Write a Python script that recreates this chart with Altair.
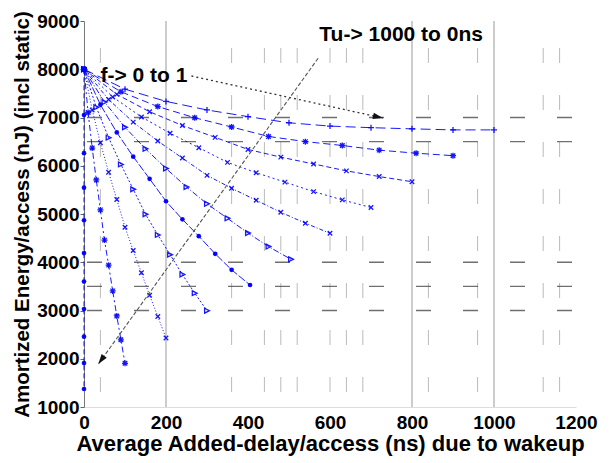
import altair as alt
import pandas as pd

FONT = "Liberation Sans"

# ---- data: one series per wake-up time Tu (ns), points for f = 0 ... 1
tu_values = [1000, 900, 800, 700, 600, 500, 400, 300, 200, 100, 0]

delay_tu1000 = [0, 100, 200, 300, 400, 500, 600, 700, 800, 900, 1000]
energy_tu1000 = [8000, 7587, 7334, 7156, 7018, 6890, 6822, 6789, 6765, 6743, 6743]
delay_tu900 = [0, 90, 180, 270, 360, 450, 540, 630, 720, 810, 900]
energy_tu900 = [8000, 7533, 7227, 6995, 6803, 6607, 6500, 6420, 6323, 6260, 6209]
delay_tu800 = [0, 80, 160, 240, 320, 400, 480, 560, 640, 720, 800]
energy_tu800 = [8000, 7480, 7119, 6834, 6588, 6338, 6178, 6037, 5894, 5776, 5669]
delay_tu700 = [0, 70, 140, 210, 280, 350, 420, 490, 560, 630, 700]
energy_tu700 = [8000, 7426, 7012, 6673, 6374, 6070, 5855, 5661, 5464, 5293, 5135]
delay_tu600 = [0, 60, 120, 180, 240, 300, 360, 420, 480, 540, 600]
energy_tu600 = [8000, 7372, 6904, 6512, 6159, 5801, 5533, 5285, 5035, 4810, 4600]
delay_tu500 = [0, 50, 100, 150, 200, 250, 300, 350, 400, 450, 505]
energy_tu500 = [8000, 7319, 6797, 6351, 5944, 5560, 5211, 4910, 4605, 4325, 4060]
delay_tu400 = [0, 40, 80, 120, 160, 200, 240, 280, 320, 360, 405]
energy_tu400 = [8000, 7265, 6690, 6189, 5729, 5264, 4889, 4540, 4175, 3843, 3528]
delay_tu300 = [0, 30, 60, 90, 120, 150, 180, 210, 240, 270, 300]
energy_tu300 = [8000, 7211, 6582, 6028, 5514, 4996, 4567, 4158, 3746, 3360, 2996]
delay_tu200 = [0, 20, 40, 60, 80, 100, 120, 140, 160, 180, 200]
energy_tu200 = [8000, 7157, 6475, 5867, 5300, 4727, 4244, 3782, 3316, 2877, 2430]
delay_tu100 = [0, 10, 20, 30, 40, 50, 60, 70, 80, 90, 100]
energy_tu100 = [8000, 7104, 6367, 5706, 5085, 4459, 3940, 3406, 2887, 2393, 1906]
delay_tu0 = [0, 0, 0, 0, 0, 0, 0, 0, 0, 0, 0]
energy_tu0 = [8000, 7050, 6260, 5545, 4870, 4190, 3600, 3030, 2457, 1910, 1373]

series_delay = [delay_tu1000, delay_tu900, delay_tu800, delay_tu700, delay_tu600,
                delay_tu500, delay_tu400, delay_tu300, delay_tu200, delay_tu100, delay_tu0]
series_energy = [energy_tu1000, energy_tu900, energy_tu800, energy_tu700, energy_tu600,
                 energy_tu500, energy_tu400, energy_tu300, energy_tu200, energy_tu100, energy_tu0]

# grid fragments seen in the picture
solid_grid_x = [200, 800, 1000]
dashed_grid_x = [40, 360, 440, 480, 520, 600, 640, 680, 840, 960, 1120, 1160]
dashed_grid_y = [3000, 3500, 4000, 6500, 7000]

# annotations
label_f = "f-> 0 to 1"
label_f_pos = [40, 7866]
label_tu = "Tu-> 1000 to 0ns"
label_tu_pos = [574, 8720]
arrow_f = [262, 7860, 729, 6990]      # x, y -> x2, y2
arrow_tu = [571, 8227, 35, 1891]

rows = []
for tu, xs_, ys_ in zip(tu_values, series_delay, series_energy):
    for i, (x, y) in enumerate(zip(xs_, ys_)):
        rows.append({"Tu": str(tu), "i": i, "delay": x, "energy": y})
df = pd.DataFrame(rows)

tu_dom = [str(t) for t in tu_values]
dash_range = [[10, 5], [7, 4], [5, 3], [2, 3], [4, 2, 1, 2], [6, 2, 1, 2],
              [8, 2], [2, 2], [1, 2], [6, 3, 2, 3], [5, 3]]
PLUS = "M-1,0L1,0M0,-1L0,1"
XM = "M-0.75,-0.75L0.75,0.75M-0.75,0.75L0.75,-0.75"
STAR = PLUS + XM
TRI = "M-0.8,-0.8L0.8,0L-0.8,0.8Z"
DOT = "M0,-0.3A0.3,0.3 0 1,1 0,0.3A0.3,0.3 0 1,1 0,-0.3Z"
shape_range = [PLUS, STAR, XM, XM, XM, TRI, DOT, TRI, XM, STAR, DOT]

xs = alt.Scale(domain=[0, 1200], nice=False)
ys = alt.Scale(domain=[1000, 9000], nice=False)

x_axis = alt.Axis(values=[0, 200, 400, 600, 800, 1000, 1200], format="d", grid=False, ticks=False,
                  labelPadding=6, labelFlush=False, labelFont=FONT, labelFontSize=19,
                  labelFontWeight="bold", labelColor="black",
                  title="Average Added-delay/access (ns) due to wakeup",
                  titleFont=FONT, titleFontSize=22, titleFontWeight="bold",
                  titleColor="black", titlePadding=1, domainColor="#dddddd")
y_axis = alt.Axis(values=[1000, 2000, 3000, 4000, 5000, 6000, 7000, 8000, 9000], format="d",
                  grid=False, tickSize=4, tickColor="#666666", labelPadding=1, labelFont=FONT,
                  labelFontSize=19, labelFontWeight="bold", labelColor="black",
                  title="Amortized Energy/access (nJ) (incl static)",
                  titleFont=FONT, titleFontSize=20.5, titleFontWeight="bold",
                  titleColor="black", titlePadding=4, domainColor="#777777")

base = alt.Chart(df)

vsolid = alt.Chart(pd.DataFrame({"x": solid_grid_x})).mark_rule(
    color="#999999", strokeWidth=1).encode(x=alt.X("x:Q", scale=xs, axis=x_axis))
vdash = alt.Chart(pd.DataFrame({"x": dashed_grid_x})).mark_rule(
    color="#666666", strokeWidth=1, opacity=0.45, strokeDash=[15, 32], strokeDashOffset=20
).encode(x=alt.X("x:Q", scale=xs))
hdash = alt.Chart(pd.DataFrame({"y": dashed_grid_y})).mark_rule(
    color="#333333", strokeWidth=1.3, opacity=0.7, strokeDash=[15, 32], strokeDashOffset=43
).encode(y=alt.Y("y:Q", scale=ys, axis=y_axis))

lines = base.mark_line(color="#0000ff", strokeWidth=1, opacity=0.9).encode(
    x=alt.X("delay:Q", scale=xs),
    y=alt.Y("energy:Q", scale=ys),
    order="i:Q",
    strokeDash=alt.StrokeDash("Tu:N", scale=alt.Scale(domain=tu_dom, range=dash_range), legend=None),
    detail="Tu:N",
)
pts = base.mark_point(color="#0000ff", filled=False, strokeWidth=1.3, size=36, opacity=0.9).encode(
    x=alt.X("delay:Q", scale=xs),
    y=alt.Y("energy:Q", scale=ys),
    shape=alt.Shape("Tu:N", scale=alt.Scale(domain=tu_dom, range=shape_range), legend=None),
)
dots = base.transform_filter(
    (alt.datum.Tu == "0") | (alt.datum.Tu == "400")
).mark_circle(color="#0000ff", size=22, opacity=0.95).encode(
    x=alt.X("delay:Q", scale=xs), y=alt.Y("energy:Q", scale=ys))

arr_df = pd.DataFrame({
    "name": ["f", "tu"],
    "x": [arrow_f[0], arrow_tu[0]], "y": [arrow_f[1], arrow_tu[1]],
    "x2": [arrow_f[2], arrow_tu[2]], "y2": [arrow_f[3], arrow_tu[3]],
    "ang": [102.4, 215.7],
})
arrow_f_line = alt.Chart(arr_df[arr_df.name == "f"]).mark_rule(
    color="#333333", strokeWidth=1.3, strokeDash=[2, 3]).encode(
    x=alt.X("x:Q", scale=xs), y=alt.Y("y:Q", scale=ys), x2="x2:Q", y2="y2:Q")
arrow_tu_line = alt.Chart(arr_df[arr_df.name == "tu"]).mark_rule(
    color="#555555", strokeWidth=1.1, strokeDash=[4, 2]).encode(
    x=alt.X("x:Q", scale=xs), y=alt.Y("y:Q", scale=ys), x2="x2:Q", y2="y2:Q")
heads = alt.Chart(arr_df).mark_point(
    shape="M0,0L-0.32,1L0.32,1Z", filled=True, color="#111111", opacity=1, size=400).encode(
    x=alt.X("x2:Q", scale=xs), y=alt.Y("y2:Q", scale=ys), angle=alt.Angle("ang:Q", scale=None))

txt_df = pd.DataFrame({"t": [label_f, label_tu],
                       "x": [label_f_pos[0], label_tu_pos[0]],
                       "y": [label_f_pos[1], label_tu_pos[1]]})
texts = alt.Chart(txt_df).mark_text(
    font=FONT, fontSize=21, fontWeight="bold", color="black", align="left", baseline="middle"
).encode(x=alt.X("x:Q", scale=xs), y=alt.Y("y:Q", scale=ys), text="t:N")

chart = alt.layer(vsolid, vdash, hdash, lines, pts, dots, arrow_f_line, arrow_tu_line, heads, texts).properties(
    width=492, height=386,
    autosize=alt.AutoSizeParams(type="none"),
    padding={"left": 76, "top": 13, "right": 25, "bottom": 50},
    background="white",
).configure_view(stroke=None)

chart.save("out.html", embed_options={"renderer": "svg", "actions": False})
